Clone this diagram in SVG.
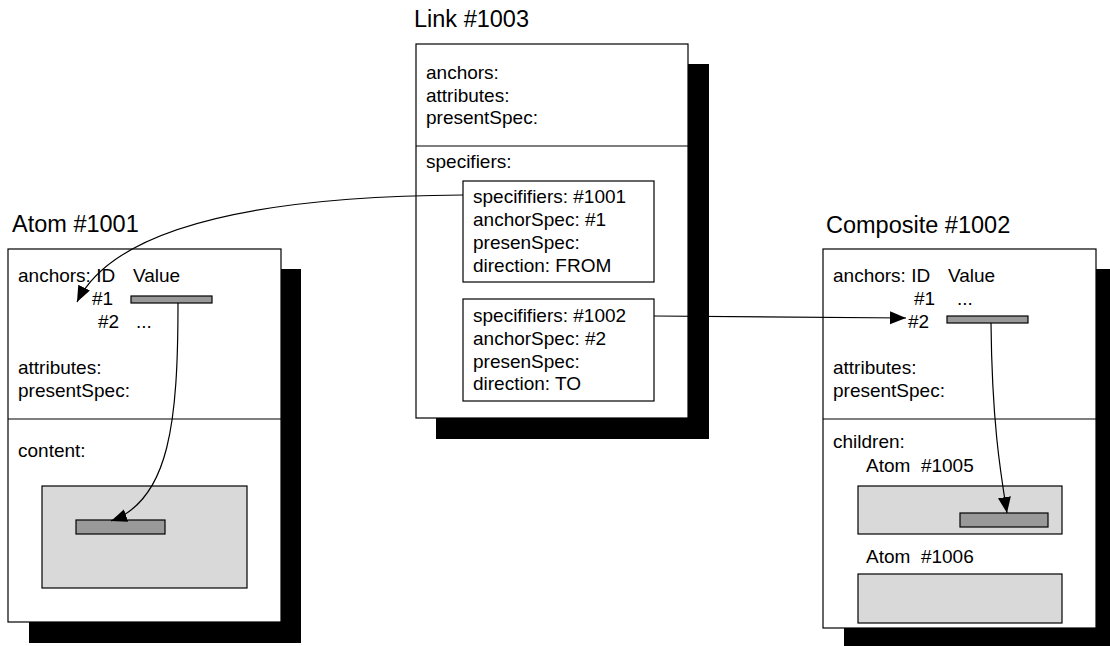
<svg xmlns="http://www.w3.org/2000/svg" width="1110" height="646" viewBox="0 0 1110 646">
  <style>
    .shadow { fill: #000; }
    .box { fill: #fff; stroke: #000; stroke-width: 1.2; }
    .div { stroke: #000; stroke-width: 1.2; }
    .light { fill: #d9d9d9; stroke: #000; stroke-width: 1.2; }
    .bar { fill: #999; stroke: #000; stroke-width: 1.2; }
    text { font-family: "Liberation Sans", Arial, sans-serif; fill: #000; font-variant-ligatures: none; font-feature-settings: "liga" 0; white-space: pre; }
    .title { font-size: 23.5px; }
    .t { font-size: 19px; }
    .conn { fill: none; stroke: #000; stroke-width: 1.2; }
  </style>
  <defs>
    <marker id="arrow" markerUnits="userSpaceOnUse" markerWidth="18" markerHeight="14" refX="16" refY="6.5" orient="auto">
      <path d="M0,0 L16,6.5 L0,13 z" fill="#000"/>
    </marker>
  </defs>

  <rect width="1110" height="646" fill="#fff"/>

  <!-- Atom #1001 -->
  <g id="atom1001">
    <text class="title" x="12" y="232">Atom #1001</text>
    <rect class="shadow" x="29" y="269" width="272" height="374"/>
    <rect class="box" x="8" y="249" width="273" height="373"/>
    <line class="div" x1="8" y1="419" x2="281" y2="419"/>
    <text class="t" x="18" y="282">anchors: ID</text>
    <text class="t" x="133" y="282">Value</text>
    <text class="t" x="92" y="305">#1</text>
    <rect class="bar" x="131" y="296" width="81" height="7"/>
    <text class="t" x="98" y="328">#2</text>
    <text class="t" x="136" y="328">...</text>
    <text class="t" x="18" y="374">attributes:</text>
    <text class="t" x="18" y="397">presentSpec:</text>
    <text class="t" x="18" y="457">content:</text>
    <rect class="light" x="42" y="486" width="205" height="102"/>
    <rect class="bar" x="76" y="520" width="89" height="14"/>
  </g>

  <!-- Link #1003 -->
  <g id="link1003">
    <text class="title" x="414" y="27">Link #1003</text>
    <rect class="shadow" x="436" y="64" width="273" height="375"/>
    <rect class="box" x="416" y="44" width="272" height="374"/>
    <line class="div" x1="416" y1="146" x2="688" y2="146"/>
    <text class="t" x="426" y="79">anchors:</text>
    <text class="t" x="426" y="102">attributes:</text>
    <text class="t" x="426" y="124">presentSpec:</text>
    <text class="t" x="426" y="168">specifiers:</text>
    <g id="spec1001">
      <rect class="box" x="463" y="181" width="191" height="101"/>
      <text class="t" x="473" y="203">specififiers: #1001</text>
      <text class="t" x="473" y="226">anchorSpec: #1</text>
      <text class="t" x="473" y="249">presenSpec:</text>
      <text class="t" x="473" y="272">direction: FROM</text>
    </g>
    <g id="spec1002">
      <rect class="box" x="463" y="299" width="191" height="102"/>
      <text class="t" x="473" y="322">specififiers: #1002</text>
      <text class="t" x="473" y="345">anchorSpec: #2</text>
      <text class="t" x="473" y="368">presenSpec:</text>
      <text class="t" x="473" y="390">direction: TO</text>
    </g>
  </g>

  <!-- Composite #1002 -->
  <g id="composite1002">
    <text class="title" x="826" y="233">Composite #1002</text>
    <rect class="shadow" x="844" y="269" width="273" height="380"/>
    <rect class="box" x="823" y="249" width="273" height="379"/>
    <line class="div" x1="823" y1="419" x2="1096" y2="419"/>
    <text class="t" x="833" y="282">anchors: ID</text>
    <text class="t" x="948" y="282">Value</text>
    <text class="t" x="914" y="305">#1</text>
    <text class="t" x="957" y="305">...</text>
    <text class="t" x="908" y="328">#2</text>
    <rect class="bar" x="947" y="316" width="81" height="7"/>
    <text class="t" x="833" y="374">attributes:</text>
    <text class="t" x="833" y="397">presentSpec:</text>
    <text class="t" x="833" y="448">children:</text>
    <g id="atom1005">
      <text class="t" x="866" y="472">Atom  #1005</text>
      <rect class="light" x="858" y="486" width="204" height="48"/>
      <rect class="bar" x="960" y="513" width="88" height="14"/>
    </g>
    <g id="atom1006">
      <text class="t" x="866" y="563">Atom  #1006</text>
      <rect class="light" x="858" y="574" width="204" height="49"/>
    </g>
  </g>

  <!-- connectors -->
  <g id="connectors">
    <path class="conn" d="M463,195 C300,196 120,215 77,302" marker-end="url(#arrow)"/>
    <path class="conn" d="M178,303 C178,420 170,500 111,521" marker-end="url(#arrow)"/>
    <path class="conn" d="M654,316 L906,318" marker-end="url(#arrow)"/>
    <path class="conn" d="M991,323 C992,420 1000,470 1007,513" marker-end="url(#arrow)"/>
  </g>
</svg>
